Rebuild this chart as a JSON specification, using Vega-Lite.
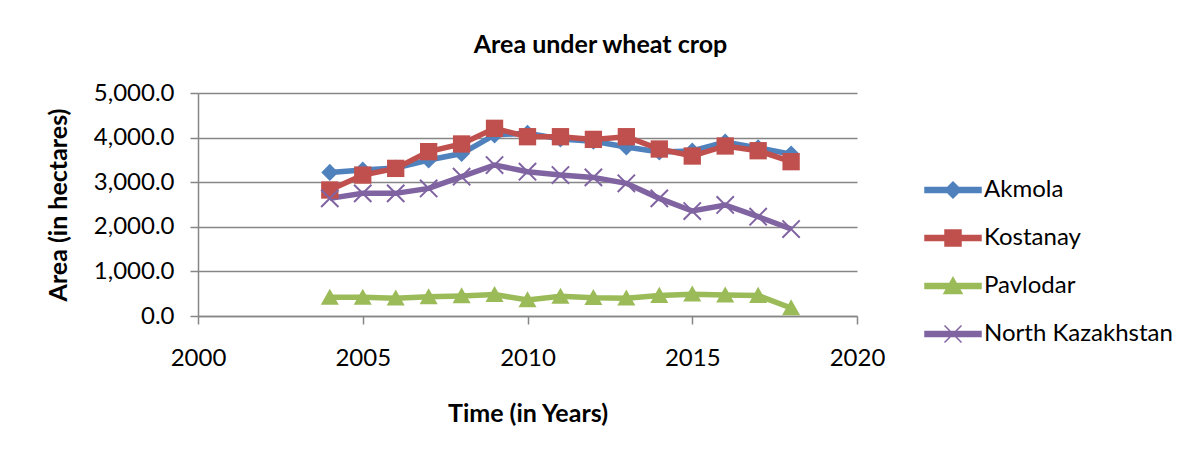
{
  "$schema": "https://vega.github.io/schema/vega-lite/v6.json",
  "autosize": "none",
  "width": 659,
  "height": 223,
  "padding": {"left": 198, "top": 93, "right": 340, "bottom": 141},
  "background": "white",
  "config": {
    "font": "Lato",
    "view": {"stroke": null},
    "axis": {
      "labelColor": "#000000",
      "titleColor": "#000000",
      "labelFontSize": 24,
      "titleFontSize": 25,
      "titleFontWeight": "bold",
      "domainColor": "#868686",
      "tickColor": "#868686",
      "gridColor": "#868686",
      "domainWidth": 1.5,
      "tickWidth": 1.5,
      "gridWidth": 1.5,
      "tickSize": 8
    }
  },
  "title": {
    "text": "Area under wheat crop",
    "fontSize": 25,
    "fontWeight": "bold",
    "color": "#000000",
    "anchor": "middle",
    "dx": 73,
    "offset": 23
  },
  "data": {
    "values": [
      {"year": 2004, "region": "Akmola", "area": 3220},
      {"year": 2005, "region": "Akmola", "area": 3275},
      {"year": 2006, "region": "Akmola", "area": 3318},
      {"year": 2007, "region": "Akmola", "area": 3497},
      {"year": 2008, "region": "Akmola", "area": 3643},
      {"year": 2009, "region": "Akmola", "area": 4060},
      {"year": 2010, "region": "Akmola", "area": 4100},
      {"year": 2011, "region": "Akmola", "area": 3970},
      {"year": 2012, "region": "Akmola", "area": 3920},
      {"year": 2013, "region": "Akmola", "area": 3790},
      {"year": 2014, "region": "Akmola", "area": 3677},
      {"year": 2015, "region": "Akmola", "area": 3700},
      {"year": 2016, "region": "Akmola", "area": 3900},
      {"year": 2017, "region": "Akmola", "area": 3770},
      {"year": 2018, "region": "Akmola", "area": 3630},
      {"year": 2004, "region": "Kostanay", "area": 2825},
      {"year": 2005, "region": "Kostanay", "area": 3160},
      {"year": 2006, "region": "Kostanay", "area": 3310},
      {"year": 2007, "region": "Kostanay", "area": 3685},
      {"year": 2008, "region": "Kostanay", "area": 3857},
      {"year": 2009, "region": "Kostanay", "area": 4208},
      {"year": 2010, "region": "Kostanay", "area": 4020},
      {"year": 2011, "region": "Kostanay", "area": 4020},
      {"year": 2012, "region": "Kostanay", "area": 3960},
      {"year": 2013, "region": "Kostanay", "area": 4020},
      {"year": 2014, "region": "Kostanay", "area": 3744},
      {"year": 2015, "region": "Kostanay", "area": 3587},
      {"year": 2016, "region": "Kostanay", "area": 3812},
      {"year": 2017, "region": "Kostanay", "area": 3706},
      {"year": 2018, "region": "Kostanay", "area": 3460},
      {"year": 2004, "region": "Pavlodar", "area": 420},
      {"year": 2005, "region": "Pavlodar", "area": 420},
      {"year": 2006, "region": "Pavlodar", "area": 400},
      {"year": 2007, "region": "Pavlodar", "area": 430},
      {"year": 2008, "region": "Pavlodar", "area": 450},
      {"year": 2009, "region": "Pavlodar", "area": 480},
      {"year": 2010, "region": "Pavlodar", "area": 360},
      {"year": 2011, "region": "Pavlodar", "area": 440},
      {"year": 2012, "region": "Pavlodar", "area": 410},
      {"year": 2013, "region": "Pavlodar", "area": 400},
      {"year": 2014, "region": "Pavlodar", "area": 460},
      {"year": 2015, "region": "Pavlodar", "area": 490},
      {"year": 2016, "region": "Pavlodar", "area": 470},
      {"year": 2017, "region": "Pavlodar", "area": 460},
      {"year": 2018, "region": "Pavlodar", "area": 180},
      {"year": 2004, "region": "North Kazakhstan", "area": 2638},
      {"year": 2005, "region": "North Kazakhstan", "area": 2750},
      {"year": 2006, "region": "North Kazakhstan", "area": 2750},
      {"year": 2007, "region": "North Kazakhstan", "area": 2860},
      {"year": 2008, "region": "North Kazakhstan", "area": 3123},
      {"year": 2009, "region": "North Kazakhstan", "area": 3385},
      {"year": 2010, "region": "North Kazakhstan", "area": 3235},
      {"year": 2011, "region": "North Kazakhstan", "area": 3160},
      {"year": 2012, "region": "North Kazakhstan", "area": 3108},
      {"year": 2013, "region": "North Kazakhstan", "area": 2975},
      {"year": 2014, "region": "North Kazakhstan", "area": 2638},
      {"year": 2015, "region": "North Kazakhstan", "area": 2354},
      {"year": 2016, "region": "North Kazakhstan", "area": 2489},
      {"year": 2017, "region": "North Kazakhstan", "area": 2227},
      {"year": 2018, "region": "North Kazakhstan", "area": 1950}
    ]
  },
  "encoding": {
    "x": {
      "field": "year",
      "type": "quantitative",
      "scale": {"domain": [2000, 2020], "nice": false, "zero": false},
      "axis": {
        "values": [2000, 2005, 2010, 2015, 2020],
        "format": "d",
        "grid": false,
        "labelPadding": 22,
        "labelFlush": false,
        "title": "Time (in Years)",
        "titlePadding": 31
      }
    },
    "y": {
      "field": "area",
      "type": "quantitative",
      "scale": {"domain": [0, 5000], "nice": false},
      "axis": {
        "values": [0, 1000, 2000, 3000, 4000, 5000],
        "format": ",.1f",
        "grid": true,
        "labelPadding": 16,
        "title": "Area (in hectares)",
        "titlePadding": 22
      }
    },
    "color": {
      "field": "region",
      "type": "nominal",
      "scale": {
        "domain": ["Akmola", "Kostanay", "Pavlodar", "North Kazakhstan"],
        "range": ["#4F81BD", "#C0504D", "#9BBB59", "#8064A2"]
      },
      "legend": {
        "title": null,
        "orient": "none",
        "legendX": 743,
        "legendY": 85,
        "padding": 0,
        "symbolSize": 400,
        "labelFontSize": 24,
        "labelColor": "#000000",
        "labelLimit": 0,
        "labelOffset": 19,
        "rowPadding": 24,
        "encode": {
          "symbols": {
            "update": {
              "shape": {"signal": "datum.value === 'Akmola' ? 'M-2.8,-0.25H2.8V0.25H-2.8Z M0,-0.8L0.8,0L0,0.8L-0.8,0Z' : datum.value === 'Kostanay' ? 'M-2.8,-0.25H2.8V0.25H-2.8Z M-0.8,-0.8H0.8V0.8H-0.8Z' : datum.value === 'Pavlodar' ? 'M-2.8,-0.25H2.8V0.25H-2.8Z M0,-0.85L0.9,0.75H-0.9Z' : 'M-2.8,-0.25H2.8V0.25H-2.8Z M-0.85,-0.85L0.85,0.85M-0.85,0.85L0.85,-0.85'"},
              "fill": {"signal": "scale('color', datum.value)"},
              "stroke": {"signal": "scale('color', datum.value)"},
              "strokeWidth": {"value": 1.5},
              "opacity": {"value": 1}
            }
          }
        }
      }
    }
  },
  "layer": [
    {
      "mark": {"type": "line", "strokeWidth": 5.5}
    },
    {
      "transform": [{"filter": "datum.region === 'Akmola'"}],
      "mark": {"type": "point", "shape": "M0,-1L1,0L0,1L-1,0Z", "filled": true, "opacity": 1, "size": 290}
    },
    {
      "transform": [{"filter": "datum.region === 'Kostanay'"}],
      "mark": {"type": "point", "shape": "square", "filled": true, "opacity": 1, "size": 300}
    },
    {
      "transform": [{"filter": "datum.region === 'Pavlodar'"}],
      "mark": {"type": "point", "shape": "M0,-1.05L1.1,0.9H-1.1Z", "filled": true, "opacity": 1, "size": 270}
    },
    {
      "transform": [{"filter": "datum.region === 'North Kazakhstan'"}],
      "mark": {"type": "point", "shape": "M-1,-1L1,1M-1,1L1,-1", "filled": false, "opacity": 1, "size": 300, "strokeWidth": 2}
    }
  ]
}
